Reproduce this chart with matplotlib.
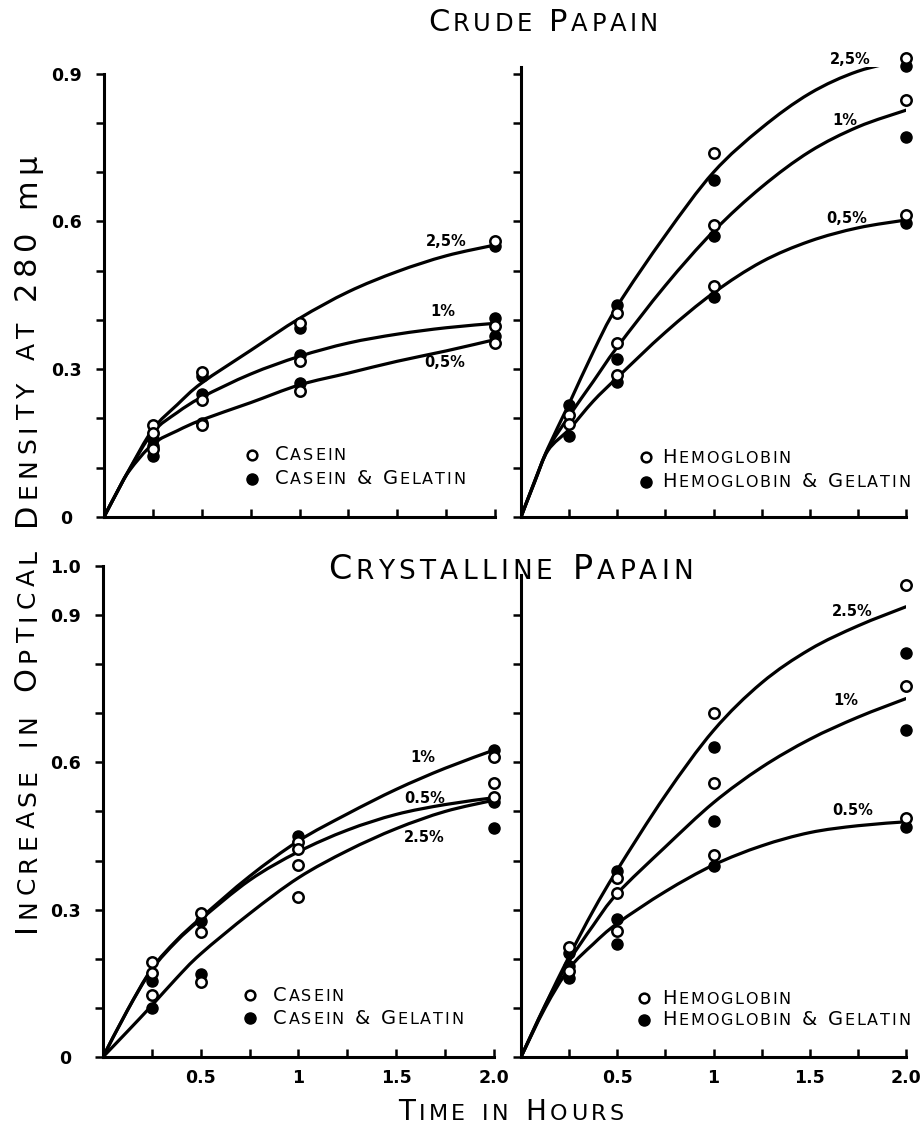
import matplotlib
matplotlib.use("Agg")
import matplotlib.pyplot as plt
from matplotlib.path import Path
from matplotlib.patches import PathPatch
from matplotlib.offsetbox import TextArea, HPacker, DrawingArea, AnnotationBbox
from matplotlib.ticker import MultipleLocator, FixedLocator

plt.rcParams["font.family"] = ["DejaVu Sans"]

# ---- experimental points (time in hours, increase in optical density) ----
# crude papain / casein
crude_cas_open_t = [0.25, 0.25, 0.25, 0.5, 0.5, 0.5, 1.0, 1.0, 1.0, 2.0, 2.0, 2.0]
crude_cas_open_v = [0.187, 0.171, 0.137, 0.295, 0.238, 0.187, 0.394, 0.316, 0.255, 0.560, 0.387, 0.353]
crude_cas_fill_t = [0.25, 0.25, 0.25, 0.5, 0.5, 0.5, 1.0, 1.0, 1.0, 2.0, 2.0, 2.0]
crude_cas_fill_v = [0.158, 0.145, 0.123, 0.286, 0.250, 0.190, 0.384, 0.328, 0.271, 0.549, 0.403, 0.368]

# crude papain / hemoglobin
crude_hem_open_t = [0.25, 0.25, 0.5, 0.5, 0.5, 1.0, 1.0, 1.0, 2.0, 2.0, 2.0]
crude_hem_open_v = [0.207, 0.189, 0.414, 0.354, 0.288, 0.740, 0.593, 0.468, 0.931, 0.847, 0.613]
crude_hem_fill_t = [0.25, 0.25, 0.5, 0.5, 0.5, 1.0, 1.0, 1.0, 2.0, 2.0, 2.0]
crude_hem_fill_v = [0.227, 0.165, 0.430, 0.320, 0.275, 0.684, 0.570, 0.447, 0.916, 0.772, 0.596]

# crystalline papain / casein
cryst_cas_open_t = [0.25, 0.25, 0.25, 0.5, 0.5, 0.5, 1.0, 1.0, 1.0, 1.0, 2.0, 2.0, 2.0]
cryst_cas_open_v = [0.194, 0.170, 0.127, 0.293, 0.255, 0.153, 0.437, 0.424, 0.390, 0.326, 0.611, 0.557, 0.529]
cryst_cas_fill_t = [0.25, 0.25, 0.5, 0.5, 1.0, 2.0, 2.0, 2.0]
cryst_cas_fill_v = [0.155, 0.100, 0.276, 0.168, 0.449, 0.625, 0.520, 0.466]

# crystalline papain / hemoglobin
cryst_hem_open_t = [0.25, 0.25, 0.5, 0.5, 0.5, 1.0, 1.0, 1.0, 2.0, 2.0, 2.0]
cryst_hem_open_v = [0.223, 0.176, 0.365, 0.333, 0.256, 0.700, 0.559, 0.412, 0.961, 0.756, 0.486]
cryst_hem_fill_t = [0.25, 0.25, 0.25, 0.5, 0.5, 0.5, 1.0, 1.0, 1.0, 2.0, 2.0, 2.0]
cryst_hem_fill_v = [0.212, 0.185, 0.160, 0.379, 0.280, 0.231, 0.631, 0.480, 0.388, 0.823, 0.665, 0.468]

# ---- drawn curves ----
crude_cas_t = [0, 0.07, 0.13, 0.25, 0.375, 0.5, 0.75, 1.0, 1.25, 1.5, 1.75, 2.0]
crude_cas_25 = [0, 0.053, 0.097, 0.178, 0.228, 0.272, 0.338, 0.403, 0.457, 0.498, 0.530, 0.552]
crude_cas_1 = [0, 0.053, 0.096, 0.172, 0.212, 0.243, 0.290, 0.326, 0.353, 0.371, 0.384, 0.393]
crude_cas_05 = [0, 0.053, 0.094, 0.148, 0.175, 0.197, 0.232, 0.268, 0.292, 0.316, 0.337, 0.360]

crude_hem_t = [0, 0.07, 0.14, 0.25, 0.375, 0.5, 0.75, 1.0, 1.25, 1.5, 1.75, 2.0]
crude_hem_25 = [0, 0.072, 0.140, 0.230, 0.335, 0.428, 0.572, 0.700, 0.790, 0.860, 0.905, 0.928]
crude_hem_1 = [0, 0.071, 0.138, 0.205, 0.275, 0.345, 0.470, 0.580, 0.670, 0.742, 0.792, 0.826]
crude_hem_05 = [0, 0.070, 0.135, 0.178, 0.235, 0.283, 0.375, 0.455, 0.518, 0.560, 0.587, 0.603]

cryst_cas_t = [0, 0.125, 0.25, 0.375, 0.5, 0.75, 1.0, 1.25, 1.5, 1.75, 2.0]
cryst_cas_1 = [0, 0.095, 0.180, 0.237, 0.283, 0.368, 0.440, 0.495, 0.545, 0.588, 0.625]
cryst_cas_05 = [0, 0.095, 0.178, 0.235, 0.280, 0.360, 0.418, 0.462, 0.494, 0.514, 0.528]
cryst_cas_25 = [0, 0.052, 0.105, 0.160, 0.210, 0.292, 0.365, 0.420, 0.465, 0.500, 0.523]

cryst_hem_t = [0, 0.125, 0.25, 0.375, 0.5, 0.75, 1.0, 1.25, 1.5, 1.75, 2.0]
cryst_hem_25 = [0, 0.105, 0.205, 0.298, 0.381, 0.533, 0.665, 0.762, 0.830, 0.878, 0.917]
cryst_hem_1 = [0, 0.105, 0.195, 0.268, 0.333, 0.428, 0.518, 0.590, 0.647, 0.692, 0.730]
cryst_hem_05 = [0, 0.100, 0.180, 0.230, 0.272, 0.337, 0.391, 0.430, 0.457, 0.471, 0.479]

crude_labels = ["2,5%", "1%", "0,5%"]
cryst_labels = ["2.5%", "1%", "0.5%"]


def smooth_path(ax, t, v, lw=2.3):
    """Bezier curve (Catmull-Rom style) through the read points."""
    pts = list(zip(t, v))
    verts = [pts[0]]
    codes = [Path.MOVETO]
    n = len(pts)
    for i in range(n - 1):
        p0 = pts[max(i - 1, 0)]
        p1 = pts[i]
        p2 = pts[i + 1]
        p3 = pts[min(i + 2, n - 1)]
        c1 = (p1[0] + (p2[0] - p0[0]) / 6, p1[1] + (p2[1] - p0[1]) / 6)
        c2 = (p2[0] - (p3[0] - p1[0]) / 6, p2[1] - (p3[1] - p1[1]) / 6)
        verts += [c1, c2, p2]
        codes += [Path.CURVE4] * 3
    patch = PathPatch(Path(verts, codes), facecolor="none", edgecolor="black",
                      lw=lw, capstyle="round", joinstyle="round", zorder=2)
    ax.add_patch(patch)


def caps_box(text, big, small, sep=1.5, weight="normal"):
    kids = []
    for i, word in enumerate(text.split(" ")):
        if i:
            kids.append(DrawingArea(small * 0.45, 1))
        lower_word = word[0].islower()
        for j, ch in enumerate(word):
            if not lower_word and (j == 0 or ch == "&" or word.isdigit()):
                size = big
            else:
                size = small
            kids.append(TextArea(ch.upper(), textprops=dict(size=size, weight=weight)))
    return HPacker(children=kids, align="baseline", pad=0, sep=sep)


def put_caps(target, xy, text, big, small, sep, coords, align=(0.5, 0.5)):
    ab = AnnotationBbox(caps_box(text, big, small, sep), xy, xycoords=coords,
                        box_alignment=align, frameon=False, pad=0,
                        annotation_clip=False)
    target.add_artist(ab)


def style(ax, ytop, ylabels, xlabels):
    ax.spines["top"].set_visible(False)
    ax.spines["right"].set_visible(False)
    for s in ("left", "bottom"):
        ax.spines[s].set_linewidth(2.2)
    ax.set_xlim(0, 2.0)
    ax.set_ylim(0, ytop)
    ax.xaxis.set_major_locator(FixedLocator([0.5, 1.0, 1.5, 2.0]))
    ax.xaxis.set_minor_locator(MultipleLocator(0.25))
    ax.xaxis.set_major_formatter(lambda x, p: {0.5: "0.5", 1.0: "1", 1.5: "1.5", 2.0: "2.0"}.get(x, ""))
    ax.tick_params(axis="x", which="both", direction="in", length=6, width=1.8,
                   labelsize=12.5, pad=9, labelbottom=xlabels)
    ax.yaxis.set_major_locator(FixedLocator(ylabels if ylabels else [0.3, 0.6, 0.9]))
    ax.yaxis.set_minor_locator(MultipleLocator(0.1))
    ax.yaxis.set_major_formatter(lambda y, p: "0" if y == 0 else f"{y:.1f}")
    ax.tick_params(axis="y", which="both", direction="out", length=6, width=1.8,
                   labelsize=12.5, pad=21, labelleft=bool(ylabels))
    for lab in ax.get_xticklabels() + ax.get_yticklabels():
        lab.set_fontweight("bold")
    for lab in ax.get_yticklabels():
        lab.set_horizontalalignment("center")


def draw_points(ax, ot, ov, ft, fv):
    ax.plot(ot, ov, "o", ms=7.5, mfc="white", mec="black", mew=1.8,
            ls="none", zorder=4, clip_on=False)
    ax.plot(ft, fv, "o", ms=8, mfc="black", mec="black", mew=1,
            ls="none", zorder=3, clip_on=False)


def legend(ax, xm, y1, y2, xt, name1, name2):
    ax.plot([xm], [y1], "o", ms=7, mfc="white", mec="black", mew=1.8,
            transform=ax.transAxes, clip_on=False)
    ax.plot([xm], [y2], "o", ms=8, mfc="black", mec="black",
            transform=ax.transAxes, clip_on=False)
    put_caps(ax, (xt, y1), name1, 14, 11.5, 1.3, "axes fraction", (0, 0.5))
    put_caps(ax, (xt, y2), name2, 14, 11.5, 1.3, "axes fraction", (0, 0.5))


fig = plt.figure(figsize=(9.22, 11.26), dpi=100)
fig.patch.set_facecolor("white")

ax_tl = fig.add_axes([0.1128, 0.5409, 0.4241, 0.3938])
ax_tr = fig.add_axes([0.5651, 0.5409, 0.4176, 0.3993])
ax_bl = fig.add_axes([0.1117, 0.0613, 0.4241, 0.4361])
ax_br = fig.add_axes([0.5651, 0.0613, 0.4176, 0.4282])

style(ax_tl, 0.9, [0, 0.3, 0.6, 0.9], False)
style(ax_tr, 0.913, None, False)
style(ax_bl, 1.0, [0, 0.3, 0.6, 0.9, 1.0], True)
style(ax_br, 0.982, None, True)

# curves
for v in (crude_cas_25, crude_cas_1, crude_cas_05):
    smooth_path(ax_tl, crude_cas_t, v)
for v in (crude_hem_25, crude_hem_1, crude_hem_05):
    smooth_path(ax_tr, crude_hem_t, v)
for v in (cryst_cas_1, cryst_cas_05, cryst_cas_25):
    smooth_path(ax_bl, cryst_cas_t, v)
for v in (cryst_hem_25, cryst_hem_1, cryst_hem_05):
    smooth_path(ax_br, cryst_hem_t, v)

draw_points(ax_tl, crude_cas_open_t, crude_cas_open_v, crude_cas_fill_t, crude_cas_fill_v)
draw_points(ax_tr, crude_hem_open_t, crude_hem_open_v, crude_hem_fill_t, crude_hem_fill_v)
draw_points(ax_bl, cryst_cas_open_t, cryst_cas_open_v, cryst_cas_fill_t, cryst_cas_fill_v)
draw_points(ax_br, cryst_hem_open_t, cryst_hem_open_v, cryst_hem_fill_t, cryst_hem_fill_v)

# curve labels
lab_kw = dict(fontsize=10.5, fontweight="bold", ha="center", va="center")
for (x, y), s in zip([(1.75, 0.560), (1.735, 0.416), (1.74, 0.313)], crude_labels):
    ax_tl.text(x, y, s, **lab_kw)
for (x, y), s in zip([(1.71, 0.928), (1.683, 0.806), (1.694, 0.607)], crude_labels):
    ax_tr.text(x, y, s, **lab_kw)
for (x, y), s in zip([(1.642, 0.446), (1.637, 0.609), (1.647, 0.527)], cryst_labels):
    ax_bl.text(x, y, s, **lab_kw)
for (x, y), s in zip([(1.719, 0.908), (1.686, 0.726), (1.722, 0.502)], cryst_labels):
    ax_br.text(x, y, s, **lab_kw)

legend(ax_tl, 0.378, 0.140, 0.086, 0.437, "Casein", "Casein & Gelatin")
legend(ax_tr, 0.325, 0.133, 0.078, 0.366, "Hemoglobin", "Hemoglobin & Gelatin")
legend(ax_bl, 0.376, 0.126, 0.079, 0.435, "Casein", "Casein & Gelatin")
legend(ax_br, 0.319, 0.122, 0.077, 0.366, "Hemoglobin", "Hemoglobin & Gelatin")

# titles
put_caps(fig, (0.589, 0.980), "Crude Papain", 22, 17.5, 2.5, "figure fraction")
put_caps(fig, (0.554, 0.4938), "Crystalline Papain", 24, 19, 3.0, "figure fraction")
put_caps(fig, (0.554, 0.0124), "Time in Hours", 20, 16, 2.5, "figure fraction")


# vertical small-caps y label, laid out letter by letter
def vertical_caps(text, x_px, yc_px, big, small, gap):
    renderer = fig.canvas.get_renderer()
    items = []
    for i, word in enumerate(text.split(" ")):
        if i:
            items.append((" ", small))
        for j, ch in enumerate(word):
            if word == "mμ":
                items.append((ch, big))
            elif word[0].islower():
                items.append((ch.upper(), small))
            elif word.isdigit() or j == 0 or ch == "&":
                items.append((ch.upper(), big))
            else:
                items.append((ch.upper(), small))
    arts, lens = [], []
    for ch, size in items:
        if ch == " ":
            arts.append(None)
            lens.append(size * 0.7)
            continue
        t = fig.text(0, 0, ch, rotation=90, rotation_mode="anchor",
                     ha="left", va="baseline", size=size)
        lens.append(t.get_window_extent(renderer).height)
        arts.append(t)
    total = sum(lens) + gap * (len(lens) - 1)
    y = yc_px - total / 2
    W, H = fig.bbox.width, fig.bbox.height
    for a, length in zip(arts, lens):
        if a is not None:
            a.set_position((x_px / W, y / H))
        y += length + gap


vertical_caps("Increase in Optical Density at 280 mμ", 35, 1126 - 543, 22, 18, 5.2)

fig.savefig("out.png", dpi=100, facecolor="white")
